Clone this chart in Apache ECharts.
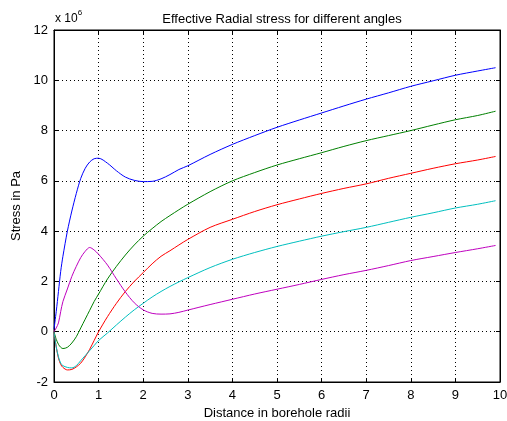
<!DOCTYPE html>
<html>
<head>
<meta charset="utf-8">
<script src="https://cdn.jsdelivr.net/npm/echarts@6/dist/echarts.min.js"></script>
<style>html,body{margin:0;padding:0;background:#fff}#c{width:507px;height:421px}</style>
</head>
<body>
<div id="c"></div>
<script>
// distance in borehole radii
const xs = [0,0.05,0.1,0.15,0.2,0.3,0.4,0.5,0.6,0.7,0.8,0.9,1.0,1.2,1.4,1.6,1.8,2.0,2.2,2.4,2.6,2.8,3.0,3.5,4.0,4.5,5,5.5,6,6.5,7,7.5,8,8.5,9,9.5,9.9];
// stress values in units of 1e6 Pa
const blue    = [0.1,0.8,1.6,2.4,3.0,4.0,4.8,5.5,6.1,6.5,6.75,6.88,6.9,6.7,6.4,6.15,6.02,5.97,5.98,6.08,6.25,6.45,6.6,7.05,7.45,7.8,8.13,8.42,8.7,8.98,9.25,9.5,9.76,9.98,10.2,10.37,10.5];
const green   = [0,-0.3,-0.5,-0.62,-0.67,-0.62,-0.45,-0.2,0.15,0.5,0.85,1.2,1.5,2.1,2.6,3.05,3.45,3.8,4.1,4.38,4.62,4.85,5.07,5.57,6.0,6.33,6.63,6.88,7.12,7.37,7.6,7.8,8.0,8.22,8.43,8.6,8.77];
const red     = [0,-0.6,-1.05,-1.3,-1.42,-1.52,-1.5,-1.4,-1.25,-1.0,-0.7,-0.35,0.0,0.6,1.13,1.6,2.0,2.35,2.7,3.0,3.22,3.45,3.67,4.15,4.47,4.78,5.05,5.28,5.5,5.7,5.88,6.1,6.3,6.5,6.68,6.83,6.97];
const cyan    = [0,-0.6,-1.0,-1.25,-1.35,-1.42,-1.44,-1.35,-1.15,-0.95,-0.75,-0.55,-0.35,-0.05,0.27,0.58,0.87,1.13,1.38,1.6,1.8,1.98,2.15,2.55,2.88,3.15,3.39,3.6,3.8,3.98,4.15,4.35,4.55,4.73,4.92,5.07,5.21];
const magenta = [0,0.15,0.35,0.8,1.2,1.7,2.2,2.6,2.95,3.2,3.35,3.25,3.08,2.65,2.1,1.58,1.15,0.87,0.73,0.7,0.71,0.77,0.86,1.08,1.29,1.5,1.69,1.88,2.08,2.27,2.44,2.63,2.83,2.99,3.15,3.3,3.43];

const titleText = 'Effective Radial stress for different angles';
const xLabel = 'Distance in borehole radii';
const yLabel = 'Stress in Pa';

const seriesDefs = [
  {name:'blue', data: blue, color:'#0000ff'},
  {name:'green', data: green, color:'#008000'},
  {name:'red', data: red, color:'#ff0000'},
  {name:'cyan', data: cyan, color:'#00bfbf'},
  {name:'magenta', data: magenta, color:'#bf00bf'}
];

const font = 'Liberation Sans, Arial, sans-serif';
const chart = echarts.init(document.getElementById('c'), null, {renderer:'canvas'});
const axCommon = {
  axisLine:{show:true, onZero:false, lineStyle:{color:'#000', width:1}},
  axisTick:{show:true, inside:true, length:4, lineStyle:{color:'#000'}},
};
chart.setOption({
  animation:false,
  backgroundColor:'#fff',
  title:{text:titleText, left:277, top:8, textAlign:'center',
    textStyle:{fontFamily:font, fontSize:13, fontWeight:'normal', color:'#000'}},
  grid:{left:54, right:7, top:30, bottom:39, show:true, borderColor:'#000', borderWidth:1,
    containLabel:false, outerBoundsMode:'none'},
  xAxis:[{
    type:'value', min:0, max:10, interval:1, position:'bottom',
    ...axCommon,
    axisLabel:{color:'#000', fontFamily:font, fontSize:13, margin:7},
    splitLine:{show:true, lineStyle:{color:'#000', type:[1,3], width:1}},
    name:xLabel, nameLocation:'middle', nameGap:24,
    nameTextStyle:{fontFamily:font, fontSize:13, color:'#000'}
  },{
    type:'value', min:0, max:10, interval:1, position:'top',
    ...axCommon, axisLabel:{show:false}, splitLine:{show:false}
  }],
  yAxis:[{
    type:'value', min:-2, max:12, interval:2, position:'left',
    ...axCommon,
    axisLabel:{color:'#000', fontFamily:font, fontSize:13, margin:6},
    splitLine:{show:true, lineStyle:{color:'#000', type:[1,3], width:1}},
    name:yLabel, nameLocation:'middle', nameGap:28,
    nameTextStyle:{fontFamily:font, fontSize:13, color:'#000'}
  },{
    type:'value', min:-2, max:12, interval:2, position:'right',
    ...axCommon, axisLabel:{show:false}, splitLine:{show:false}
  }],
  graphic:[{
    type:'text', left:55, top:9,
    style:{text:'{a|x 10}{b|6}', rich:{
      a:{fontFamily:font, fontSize:12, fill:'#000', verticalAlign:'bottom'},
      b:{fontFamily:font, fontSize:8, fill:'#000', padding:[0,0,8,0]}
    }}
  }],
  series: seriesDefs.map(s => ({
    type:'line', name:s.name, smooth:0.3, showSymbol:false,
    data: xs.map((x,i)=>[x, s.data[i]]),
    lineStyle:{color:s.color, width:1}, itemStyle:{color:s.color}
  }))
});
</script>
</body>
</html>
